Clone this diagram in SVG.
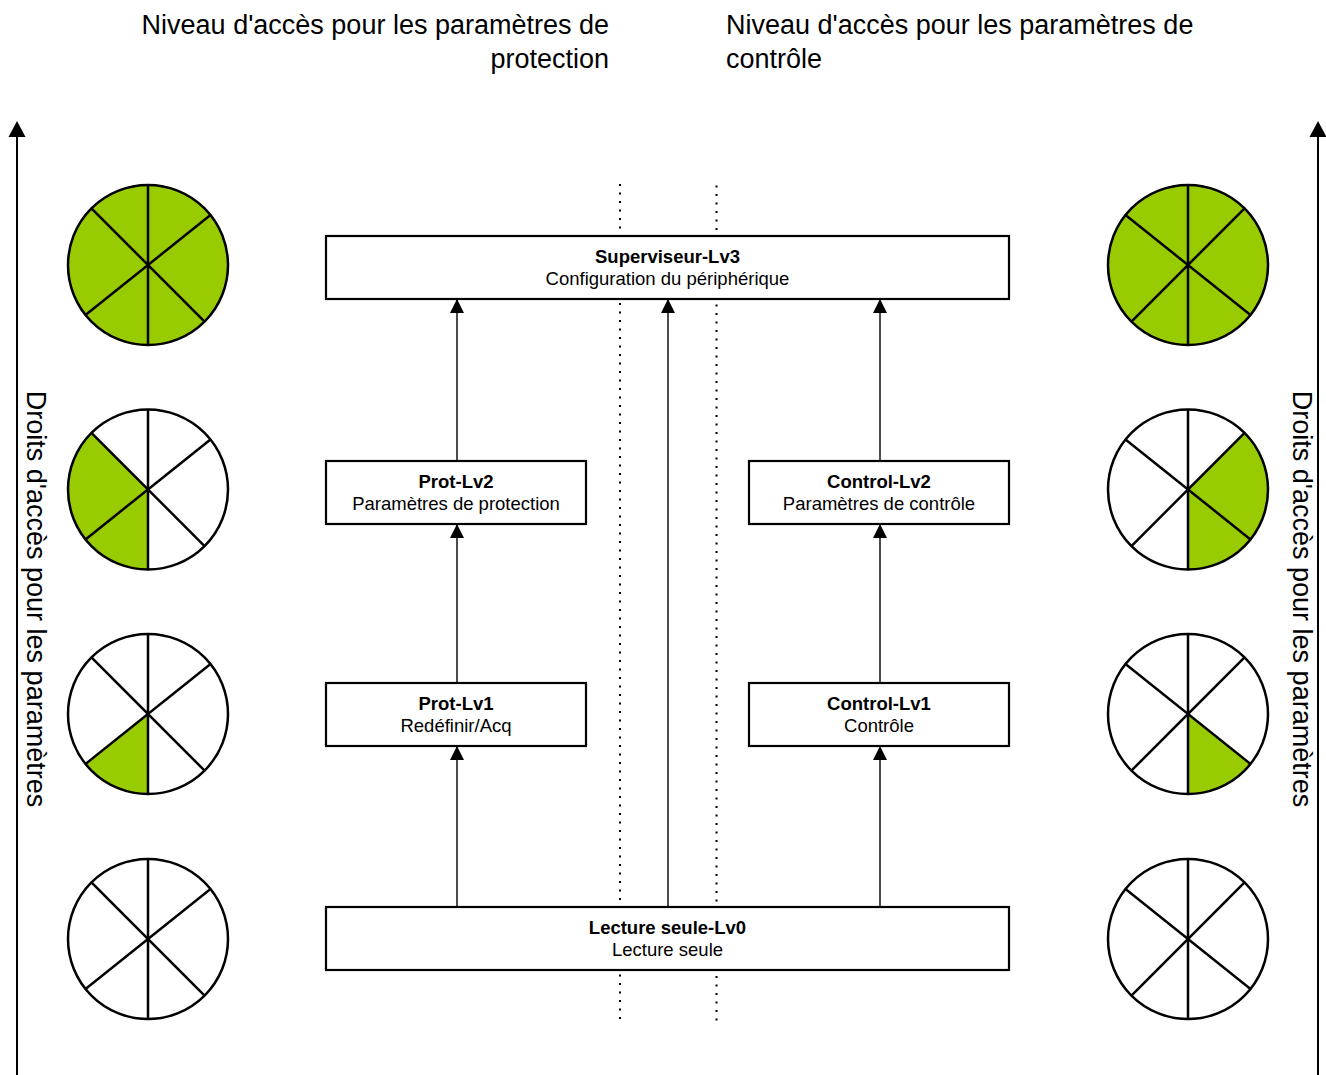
<svg xmlns="http://www.w3.org/2000/svg" xmlns:xlink="http://www.w3.org/1999/xlink" width="1326" height="1075" viewBox="0 0 1326 1075">
<style>
.bg{fill:#ffffff}
.hdr{font-family:"Liberation Sans",Arial,sans-serif;font-size:27px;fill:#000}
.box{fill:#ffffff;stroke:#000;stroke-width:2.2}
.t1{font-family:"Liberation Sans",Arial,sans-serif;font-size:18.5px;font-weight:bold;fill:#000;text-anchor:middle}
.t2{font-family:"Liberation Sans",Arial,sans-serif;font-size:18.5px;fill:#000;text-anchor:middle}
.conn{stroke:#000;stroke-width:1.4;fill:none}
.side{stroke:#000;stroke-width:2;fill:none}
.dot{stroke:#000;stroke-width:2;stroke-dasharray:2 6.5;fill:none}
.spk{stroke:#000;stroke-width:2.5;fill:none}
.grn{fill:#99cc00}
.wht{fill:#ffffff}
</style>
<defs>
<marker id="ah" markerWidth="14" markerHeight="14" refX="7" refY="1" orient="0" markerUnits="userSpaceOnUse" viewBox="0 0 14 14">
<path d="M7,0 L14,14 L0,14 Z" fill="#000"/>
</marker>
<g id="spokes">
<circle r="80" class="spk"/>
<line x1="0" y1="-80" x2="0" y2="80" class="spk"/>
<line x1="-56.57" y1="-56.57" x2="56.57" y2="56.57" class="spk"/>
<line x1="62.5" y1="-49.9" x2="-62.5" y2="49.9" class="spk"/>
</g>
<circle id="full" r="80" class="grn"/>
<circle id="empty" r="80" class="wht"/>
<path id="s2" d="M0,0 L0,80 A80,80 0 0,1 -56.57,-56.57 Z" class="grn"/>
<path id="s1" d="M0,0 L0,80 A80,80 0 0,1 -62.5,49.9 Z" class="grn"/>
</defs>
<rect width="1326" height="1075" class="bg"/>

<g id="headers">
<text class="hdr" x="609" y="34" text-anchor="end">Niveau d'accès pour les paramètres de</text>
<text class="hdr" x="609" y="68" text-anchor="end">protection</text>
<text class="hdr" x="726" y="34">Niveau d'accès pour les paramètres de</text>
<text class="hdr" x="726" y="68">contrôle</text>
</g>

<g id="side-left">
<line x1="17" y1="1075" x2="17" y2="136" class="side"/>
<path d="M17,121 L25.5,137 L8.5,137 Z" fill="#000"/>
<text class="hdr" transform="translate(27,599) rotate(90)" text-anchor="middle">Droits d'accès pour les paramètres</text>
</g>
<g id="side-right">
<line x1="1318" y1="1075" x2="1318" y2="136" class="side"/>
<path d="M1318,121 L1326.5,137 L1309.5,137 Z" fill="#000"/>
<text class="hdr" transform="translate(1293,599) rotate(90)" text-anchor="middle">Droits d'accès pour les paramètres</text>
</g>

<g id="circles-left">
<g id="cl3" transform="translate(148,265)"><use xlink:href="#full"/><use xlink:href="#spokes"/></g>
<g id="cl2" transform="translate(148,489.5)"><use xlink:href="#empty"/><use xlink:href="#s2"/><use xlink:href="#spokes"/></g>
<g id="cl1" transform="translate(148,714)"><use xlink:href="#empty"/><use xlink:href="#s1"/><use xlink:href="#spokes"/></g>
<g id="cl0" transform="translate(148,939)"><use xlink:href="#empty"/><use xlink:href="#spokes"/></g>
</g>
<g id="circles-right">
<g id="cr3" transform="translate(1188,265) scale(-1,1)"><use xlink:href="#full"/><use xlink:href="#spokes"/></g>
<g id="cr2" transform="translate(1188,489.5) scale(-1,1)"><use xlink:href="#empty"/><use xlink:href="#s2"/><use xlink:href="#spokes"/></g>
<g id="cr1" transform="translate(1188,714) scale(-1,1)"><use xlink:href="#empty"/><use xlink:href="#s1"/><use xlink:href="#spokes"/></g>
<g id="cr0" transform="translate(1188,939) scale(-1,1)"><use xlink:href="#empty"/><use xlink:href="#spokes"/></g>
</g>

<g id="separators">
<line x1="620" y1="184" x2="620" y2="1022" class="dot"/>
<line x1="716.5" y1="185.5" x2="716.5" y2="1022" class="dot"/>
</g>

<g id="connectors">
<line x1="457" y1="461" x2="457" y2="300" class="conn" marker-end="url(#ah)"/>
<line x1="457" y1="683" x2="457" y2="525" class="conn" marker-end="url(#ah)"/>
<line x1="457" y1="907" x2="457" y2="747" class="conn" marker-end="url(#ah)"/>
<line x1="880" y1="461" x2="880" y2="300" class="conn" marker-end="url(#ah)"/>
<line x1="880" y1="683" x2="880" y2="525" class="conn" marker-end="url(#ah)"/>
<line x1="880" y1="907" x2="880" y2="747" class="conn" marker-end="url(#ah)"/>
<line x1="668" y1="907" x2="668" y2="300" class="conn" marker-end="url(#ah)"/>
</g>

<g id="node-superviseur">
<rect x="326" y="236" width="683" height="63" class="box"/>
<text class="t1" x="667.5" y="262.5">Superviseur-Lv3</text>
<text class="t2" x="667.5" y="284.5">Configuration du périphérique</text>
</g>
<g id="node-prot-lv2">
<rect x="326" y="461" width="260" height="63" class="box"/>
<text class="t1" x="456" y="487.5">Prot-Lv2</text>
<text class="t2" x="456" y="509.5">Paramètres de protection</text>
</g>
<g id="node-control-lv2">
<rect x="749" y="461" width="260" height="63" class="box"/>
<text class="t1" x="879" y="487.5">Control-Lv2</text>
<text class="t2" x="879" y="509.5">Paramètres de contrôle</text>
</g>
<g id="node-prot-lv1">
<rect x="326" y="683" width="260" height="63" class="box"/>
<text class="t1" x="456" y="709.5">Prot-Lv1</text>
<text class="t2" x="456" y="731.5">Redéfinir/Acq</text>
</g>
<g id="node-control-lv1">
<rect x="749" y="683" width="260" height="63" class="box"/>
<text class="t1" x="879" y="709.5">Control-Lv1</text>
<text class="t2" x="879" y="731.5">Contrôle</text>
</g>
<g id="node-lecture">
<rect x="326" y="907" width="683" height="63" class="box"/>
<text class="t1" x="667.5" y="933.5">Lecture seule-Lv0</text>
<text class="t2" x="667.5" y="955.5">Lecture seule</text>
</g>
</svg>
